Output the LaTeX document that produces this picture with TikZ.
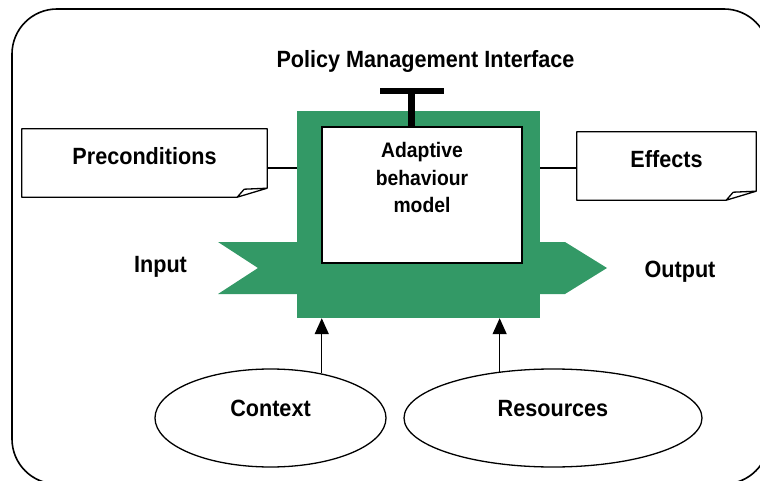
\documentclass[tikz,border=0pt]{standalone}
\usepackage{fontspec}
\setmainfont{Liberation Sans}[FakeStretch=0.92]
\usetikzlibrary{positioning, shapes.geometric, arrows.meta}
\definecolor{seagreen}{RGB}{51,153,102}

\begin{document}
\begin{tikzpicture}[x=1pt, y=-1pt, node distance=10pt,
                    font=\bfseries\fontsize{23.5}{28}\selectfont]
                    \tikzstyle{notebox}=[minimum width=245pt, minimum height=68pt, inner sep=0pt, text height=36pt, text depth=32pt]
                    \tikzstyle{cloud}=[draw, ellipse, line width=1.3pt, minimum height=98pt, inner sep=0pt, text height=12pt, text depth=16pt]
                    \tikzstyle{feed}=[-{Triangle[length=16pt, width=14pt]}, line width=1.4pt]
                    \clip (0,0) rectangle (760,481);
                    \draw [line width=1.6pt, rounded corners=45pt] (12,9) rectangle (769,484);

                    % input / output band behind the block
                    \fill [seagreen] (218,242) -- (565,242) -- (607,268) -- (565,294) -- (218,294) -- (258,268) -- cycle;

                    \node (core)  [fill=seagreen, minimum width=243pt, minimum height=207pt, inner sep=0pt] at (418.5,214.5) {};
                    \node (model) [draw, fill=white, line width=1.5pt, minimum width=200pt, minimum height=136pt, inner sep=0pt] at (422,195) {};
                    \node (label) [below=13pt of model.north, align=center, font=\bfseries\fontsize{21}{27.5}\selectfont] {Adaptive\\behaviour\\model};

                    \node (policy) [anchor=base] at (425.5,68) {Policy Management Interface};
                    \coordinate (plug) at (411.5,91.5);

                    \node (pre)    [notebox] at (144.5,163) {Preconditions};
                    \node (eff)    [notebox, minimum width=179pt] at (666.5,166) {Effects};

                    \node (input)  [anchor=base] at (160.5,272) {Input};
                    \node (output) [anchor=base] at (680,277) {Output};

                    \node (context)   [cloud, minimum width=231pt] at (270.5,418) {Context};
                    \node (resources) [cloud, minimum width=298pt] at (553,418) {Resources};

                    % folded notes
                    \foreach \n in {pre, eff} {
                      \draw [line width=1.3pt, line join=round] ([yshift=9pt]\n.south east) -- (\n.north east) -- (\n.north west) -- (\n.south west) -- ([xshift=-30pt]\n.south east) -- ([yshift=9pt]\n.south east) -- ([xshift=-23pt, yshift=8pt]\n.south east) -- ([xshift=-30pt]\n.south east);
                    }

                    \draw [line width=6.5pt] (plug) -- (plug |- model.north);
                    \draw [line width=6pt] ([xshift=-31.5pt]plug) -- ([xshift=32.5pt]plug);

                    \draw [line width=1.2pt] ([yshift=-5pt]pre.east) -- (core.west |- 0,168);
                    \draw [line width=1.2pt] (core.east |- 0,168) -- ([yshift=-2pt]eff.west);

                    \draw [feed] (context.41)    -- (context.41 |- core.south);
                    \draw [feed] (resources.139) -- (resources.139 |- core.south);
\end{tikzpicture}
\end{document}
